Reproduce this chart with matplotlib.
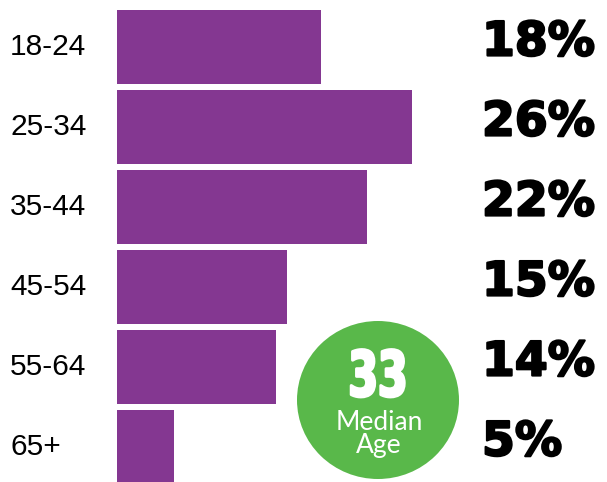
import matplotlib
matplotlib.use("Agg")
from matplotlib import pyplot as plt
from matplotlib.patches import Ellipse
from matplotlib.transforms import Affine2D
import matplotlib.patheffects as pe

# age groups and share of audience
ageGroups = ["18-24", "25-34", "35-44", "45-54", "55-64", "65+"]
shares = [18, 26, 22, 15, 14, 5]
shareLabels = ["18%", "26%", "22%", "15%", "14%", "5%"]
medianAge = "33"
medianLabel = "Median\nAge"

W, H = 607, 482
purple = "#843791"
green = "#59b84a"


# squeeze glyphs horizontally and thicken them (no condensed heavy font installed)
class Squeeze(pe.AbstractPathEffect):
    def __init__(self, cx, sx, lw=0):
        super().__init__()
        self.cx = cx
        self.sx = sx
        self.lw = lw

    def draw_path(self, renderer, gc, tpath, affine, rgbFace=None):
        squeeze = Affine2D().translate(-self.cx, 0).scale(self.sx, 1).translate(self.cx, 0)
        gc0 = renderer.new_gc()
        gc0.copy_properties(gc)
        if self.lw:
            gc0.set_linewidth(self.lw)
            gc0.set_foreground(rgbFace)
        renderer.draw_path(gc0, tpath, affine + squeeze, rgbFace)
        gc0.restore()


fig = plt.figure(figsize=(W / 100, H / 100), dpi=100)
fig.patch.set_facecolor("white")

# axes: bars start at x=117px, rows 80px apart
ax = fig.add_axes([117 / W, -5 / H, (W - 117) / W, 480 / H])
ax.barh(range(len(shares)), shares, height=0.92, color=purple, edgecolor="none")
ax.set_xlim(0, (W - 117) / 11.35)
ax.set_ylim(len(shares) - 0.5, -0.5)
ax.axis("off")

bold = [pe.withStroke(linewidth=1.6, foreground="black")]
for i, (grp, lab) in enumerate(zip(ageGroups, shareLabels)):
    yFig = 1 - (47 + 80 * i) / H
    fig.text(10 / W, yFig, grp, fontsize=21.5, family="Liberation Sans",
             ha="left", va="center")
    fig.text(482 / W, yFig + 4 / H, lab, fontsize=34, family="DejaVu Sans",
             fontweight="bold", ha="left", va="center", color="black", path_effects=bold)

# median age badge
badge = Ellipse((378 / W, 1 - 400 / H), 162 / W, 158 / H, transform=fig.transFigure,
                facecolor=green, edgecolor="none", zorder=2)
fig.add_artist(badge)
fig.text(378 / W, 1 - 396 / H, medianAge, fontsize=45, family="DejaVu Sans",
         fontweight="bold", color="white", ha="center", va="baseline", zorder=5,
         path_effects=[Squeeze(378, 0.68, lw=2.2)])
fig.text(379 / W, 1 - 434 / H, medianLabel, fontsize=19, family="Lato",
         color="white", ha="center", va="center", multialignment="center",
         linespacing=0.85, zorder=5)

fig.savefig("out.png", dpi=100, facecolor="white")
